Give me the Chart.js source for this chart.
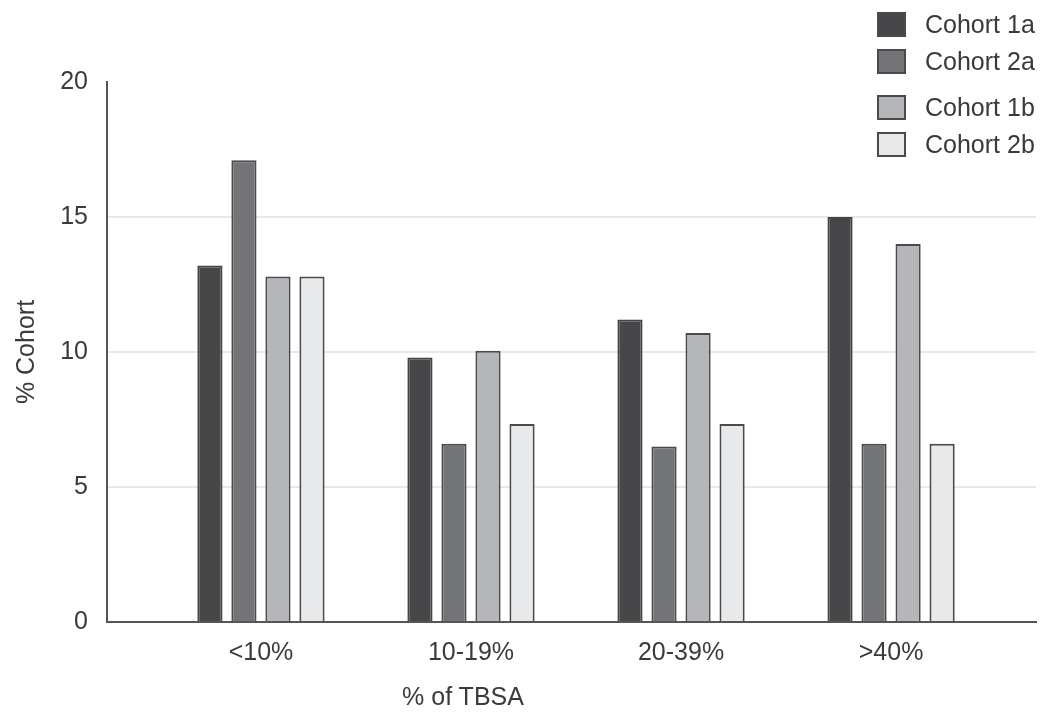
<!DOCTYPE html>
<html>
<head>
<meta charset="utf-8">
<script src="https://cdn.jsdelivr.net/npm/chart.js@4/dist/chart.umd.min.js"></script>
<style>
  body { margin: 0; background: #fff; }
  #wrap { position: relative; width: 1050px; height: 723px; font-family: "Liberation Sans", Arial, sans-serif; color: #3a3a3a; }
  canvas { position: absolute; left: 0; top: 0; }
  .leg { position: absolute; left: 877px; height: 25px; display: flex; align-items: center; font-size: 25px; white-space: nowrap; }
  .leg span.box { display: inline-block; width: 25px; height: 21px; border: 2px solid #4a4a4a; margin-right: 19px; }
  #xtitle { position: absolute; top: 682px; left: 463px; transform: translateX(-50%); font-size: 25px; white-space: nowrap; }
</style>
</head>
<body>
<div id="wrap">
  <canvas id="grafico" width="1050" height="723"></canvas>
  <div id="legend"></div>
  <div id="xtitle">% of TBSA</div>
</div>
<script>
// datos
const categorias = ['<10%', '10-19%', '20-39%', '>40%'];
const cohorte1a = [13.2, 9.8, 11.2, 15.0];
const cohorte2a = [17.1, 6.6, 6.5, 6.6];
const cohorte1b = [12.8, 10.05, 10.7, 14.0];
const cohorte2b = [12.8, 7.33, 7.33, 6.6];
const ticksY = [0, 5, 10, 15, 20];

const series = [
  { label: 'Cohort 1a', data: cohorte1a, color: '#47474a', borde: '#444446' },
  { label: 'Cohort 2a', data: cohorte2a, color: '#737478', borde: '#4a4a4c' },
  { label: 'Cohort 1b', data: cohorte1b, color: '#b5b6b9', borde: '#4a4a4c' },
  { label: 'Cohort 2b', data: cohorte2b, color: '#e8e9eb', borde: '#4a4a4c' }
];

// leyenda en html, arriba a la derecha
const filasLeyenda = [12, 49, 95, 132];
const leyenda = document.getElementById('legend');
series.forEach(function (s, i) {
  const item = document.createElement('div');
  item.className = 'leg';
  item.style.top = filasLeyenda[i] + 'px';
  item.innerHTML = '<span class="box" style="background:' + s.color + '"></span>' + s.label;
  leyenda.appendChild(item);
});

const ctx = document.getElementById('grafico');
new Chart(ctx, {
  type: 'bar',
  data: {
    datasets: series.map(function (s) {
      return {
        label: s.label,
        data: s.data.map(function (v, i) { return { x: i, y: v }; }),
        backgroundColor: s.color,
        borderColor: s.borde,
        borderWidth: 2,
        barPercentage: 0.74,
        categoryPercentage: 0.648
      };
    })
  },
  options: {
    responsive: false,
    animation: false,
    devicePixelRatio: 1,
    layout: { padding: { left: 0, top: 82, right: 14, bottom: 0 } },
    plugins: {
      legend: { display: false },
      tooltip: { enabled: false }
    },
    scales: {
      x: {
        type: 'linear',
        offset: false,
        min: -0.733,
        max: 3.69,
        afterBuildTicks: function (scale) {
          scale.ticks = categorias.map(function (c, i) { return { value: i }; });
        },
        afterFit: function (scale) { scale.height = 101; },
        grid: { display: false, drawTicks: false },
        border: { display: true, color: '#555', width: 2 },
        ticks: {
          padding: 16,
          color: '#3a3a3a',
          font: { family: 'Liberation Sans', size: 25 },
          callback: function (v) { return categorias[v]; }
        }
      },
      y: {
        min: 0,
        max: 20,
        afterBuildTicks: function (scale) {
          scale.ticks = ticksY.map(function (v) { return { value: v }; });
        },
        afterFit: function (scale) { scale.width = 107; },
        grid: {
          drawTicks: false,
          lineWidth: 2,
          color: function (c) {
            const v = c.tick && c.tick.value;
            return (v === 0 || v === 20) ? 'rgba(0,0,0,0)' : '#e8e8e8';
          }
        },
        border: { display: true, color: '#555', width: 2 },
        ticks: {
          padding: 19,
          color: '#3a3a3a',
          font: { family: 'Liberation Sans', size: 25 }
        },
        title: {
          display: true,
          text: '% Cohort',
          color: '#3a3a3a',
          font: { family: 'Liberation Sans', size: 25 },
          padding: { top: 12, bottom: 0 }
        }
      }
    }
  }
});
</script>
</body>
</html>
